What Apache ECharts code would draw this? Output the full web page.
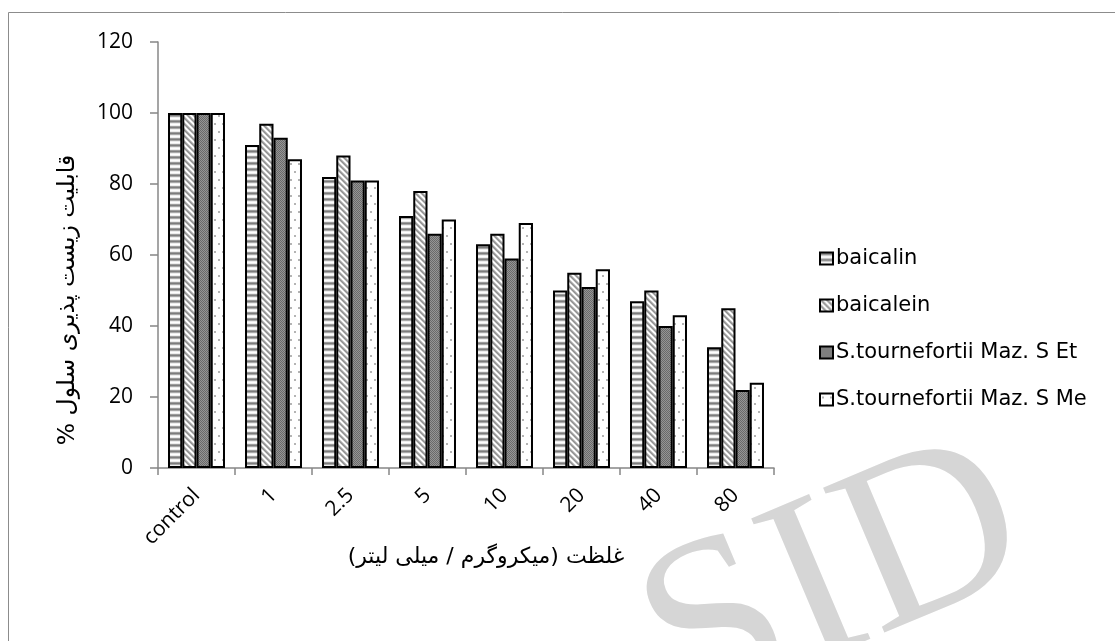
<!DOCTYPE html>
<html>
<head>
<meta charset="utf-8">
<script src="https://cdn.jsdelivr.net/npm/echarts@6/dist/echarts.min.js"></script>
<style>
  html, body { margin: 0; padding: 0; background: #fff; }
  #chart { width: 1115px; height: 641px; }
</style>
</head>
<body>
<div id="chart"></div>
<script>
// Concentrations tested (µg/mL)
const categories = ['control', '1', '2.5', '5', '10', '20', '40', '80'];
const seriesNames = ['baicalin', 'baicalein', 'S.tournefortii Maz. S Et', 'S.tournefortii Maz. S Me'];

// Cell viability (%) per concentration
const baicalin   = [100, 91, 82, 71, 63, 50, 47, 34];
const baicalein  = [100, 97, 88, 78, 66, 55, 50, 45];
const extractEt  = [100, 93, 81, 66, 59, 51, 40, 22];
const extractMe  = [100, 87, 81, 70, 69, 56, 43, 24];

const yTicks = [0, 20, 40, 60, 80, 100, 120];

const yTitle = '\u200Fقابلیت زیست پذیری سلول %\u200F';
const xTitle = '\u200Fغلظت (میکروگرم / میلی لیتر)\u200F';

// ---- fill patterns for the bars ----
function tile(w, h, paint) {
  const c = document.createElement('canvas');
  c.width = w; c.height = h;
  const ctx = c.getContext('2d');
  paint(ctx, w, h);
  return c;
}
function px(ctx, x, y, col) { ctx.fillStyle = col; ctx.fillRect(x, y, 1, 1); }

// horizontal bands
const hStripe = tile(4, 6, (ctx, w) => {
  const rows = ['#9c9c9c', '#7d7d7d', '#a8a8a8', '#ededed', '#ffffff', '#ededed'];
  rows.forEach((c, i) => { ctx.fillStyle = c; ctx.fillRect(0, i, w, 1); });
});
// diagonal bands running top-left to bottom-right
const dStripe = tile(6, 6, (ctx, w, h) => {
  const shade = ['#8f8f8f', '#a3a3a3', '#c9c9c9', '#ffffff', '#ffffff', '#c9c9c9'];
  for (let y = 0; y < h; y++) for (let x = 0; x < w; x++) {
    px(ctx, x, y, shade[((x - y) % 6 + 6) % 6]);
  }
});
// dark dotted fill
const darkDots = tile(4, 4, (ctx, w, h) => {
  for (let y = 0; y < h; y++) for (let x = 0; x < w; x++) {
    px(ctx, x, y, (x + y) % 2 === 0 ? '#6a6a6a' : '#959595');
  }
});
// light sparse dots
const lightDots = tile(8, 16, (ctx, w, h) => {
  ctx.fillStyle = '#ffffff'; ctx.fillRect(0, 0, w, h);
  ctx.fillStyle = '#b4b4b4';
  ctx.fillRect(2, 3, 2, 2);
  ctx.fillRect(6, 11, 2, 2);
});

const fills = [hStripe, dStripe, darkDots, lightDots];
const values = [baicalin, baicalein, extractEt, extractMe];

const chart = echarts.init(document.getElementById('chart'), null, { renderer: 'canvas' });

const axisGray = '#878787';
const tickFont = '"Open Sans", sans-serif';

const option = {
  backgroundColor: '#ffffff',
  animation: false,
  grid: { left: 158, right: 341, top: 42, bottom: 173, containLabel: false },
  legend: {
    orient: 'vertical',
    left: 814,
    top: 243,
    itemWidth: 13,
    itemHeight: 12,
    itemGap: 26,
    icon: 'rect',
    textStyle: { fontFamily: '"DejaVu Sans", sans-serif', fontSize: 21, color: '#000', padding: [0, 0, 0, -2] },
    data: seriesNames
  },
  xAxis: {
    type: 'category',
    data: categories,
    axisLine: { lineStyle: { color: axisGray, width: 1.5 } },
    axisTick: { show: true, length: 7, lineStyle: { color: axisGray, width: 1.5 } },
    axisLabel: {
      rotate: 45, margin: 24, color: '#000',
      fontFamily: tickFont, fontSize: 21
    },
    splitLine: { show: false }
  },
  yAxis: {
    type: 'value',
    min: yTicks[0],
    max: yTicks[yTicks.length - 1],
    interval: yTicks[1] - yTicks[0],
    axisLine: { show: true, lineStyle: { color: axisGray, width: 1.5 } },
    axisTick: { show: true, length: 8, lineStyle: { color: axisGray, width: 1.5 } },
    axisLabel: { margin: 25, color: '#000', fontFamily: tickFont, fontSize: 21 },
    splitLine: { show: false }
  },
  series: seriesNames.map((name, i) => ({
    name: name,
    type: 'bar',
    data: values[i],
    barGap: '0%',
    barCategoryGap: '26%',
    itemStyle: {
      color: { image: fills[i], repeat: 'repeat' },
      borderColor: '#000',
      borderWidth: 2
    }
  })),
  graphic: [
    // frame around the figure
    { type: 'rect', shape: { x: 8.5, y: 12.5, width: 1200, height: 800 },
      style: { fill: 'none', stroke: '#8c8c8c', lineWidth: 1 }, silent: true, z: -1 },
    // y axis title
    { type: 'text', x: 68, y: 300, rotation: Math.PI / 2,
      style: { text: yTitle, fontFamily: '"DejaVu Sans", sans-serif', fontSize: 23.5,
               fill: '#000', textAlign: 'center', textVerticalAlign: 'middle' } },
    // x axis title
    { type: 'text', x: 486, y: 557,
      style: { text: xTitle, fontFamily: '"DejaVu Sans", sans-serif', fontSize: 22,
               fill: '#000', textAlign: 'center', textVerticalAlign: 'middle' } },
    // SID mark
    { type: 'text', x: 835, y: 585, rotation: 0.4, z: -2,
      style: { text: 'SID', fontFamily: '"Liberation Serif", serif', fontSize: 240,
               fill: '#d6d6d6', textAlign: 'center', textVerticalAlign: 'middle' } }
  ]
};

chart.setOption(option);
</script>
</body>
</html>
